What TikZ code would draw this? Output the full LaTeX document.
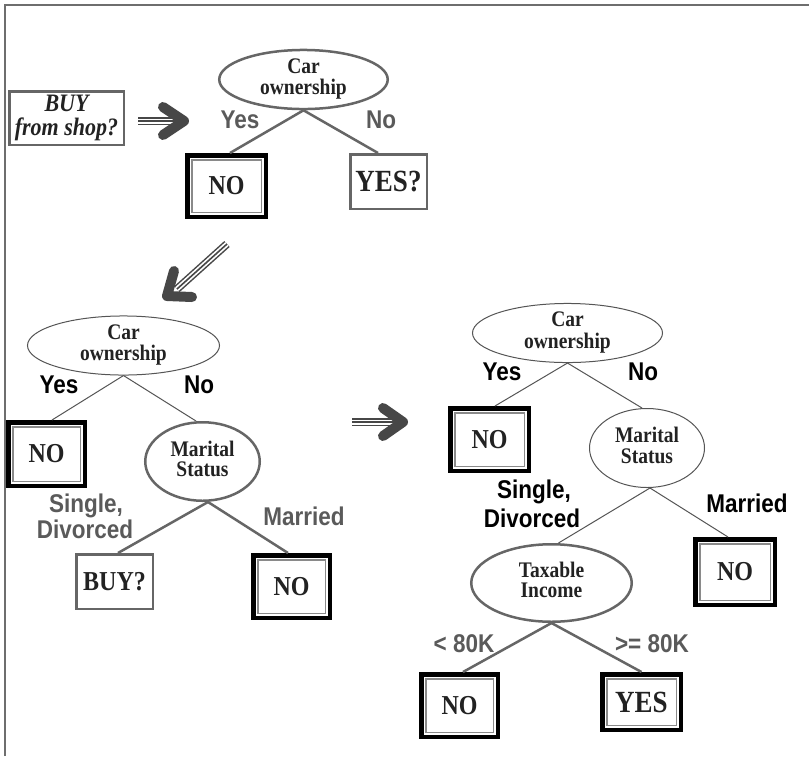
\documentclass[tikz,border=0pt]{standalone}
\usepackage{fontspec}
\usepackage{graphicx}
\setmainfont{Liberation Serif}
\newfontfamily\lsans{Liberation Sans}
\usetikzlibrary{shapes.geometric}
\definecolor{edgegray}{HTML}{666666}
\definecolor{thingray}{HTML}{555555}
\definecolor{lblgray}{HTML}{5A5A5A}
\definecolor{txtdark}{HTML}{222222}
\definecolor{innergray}{HTML}{8A8A8A}
\definecolor{arrowdark}{HTML}{474747}
\definecolor{framegray}{HTML}{6E6E6E}
\newcommand\ellfont{\bfseries\fontsize{19.5}{17}\selectfont}
\newcommand\boxfont{\bfseries\fontsize{24}{24}\selectfont}
\newcommand\bigboxfont{\bfseries\fontsize{27}{27}\selectfont}
\newcommand\buyfont{\bfseries\itshape\fontsize{22}{18.5}\selectfont}
\newcommand\lblfont{\lsans\bfseries\fontsize{22.5}{22.5}\selectfont}
\newcommand\vs[1]{\scalebox{1}[1.14]{#1}}
\newcommand\vst[1]{\scalebox{1}[1.14]{\begin{tabular}{@{}c@{}}#1\end{tabular}}}
\tikzset{
  frameline/.style={draw=framegray, line width=2.5pt},
  thickedge/.style={draw=edgegray, line width=2.5pt},
  thinedge/.style={draw=thingray, line width=1pt},
  ovalthick/.style={ellipse, draw=edgegray, line width=2.5pt, inner sep=0pt, font=\ellfont, text=txtdark},
  ovalthin/.style={ellipse, draw=thingray, line width=1pt, inner sep=0pt, font=\ellfont, text=txtdark},
  sbox/.style={rectangle, draw=edgegray, line width=2.5pt, inner sep=0pt, font=\boxfont, text=txtdark},
  dbox/.style={rectangle, draw=black, line width=4.5pt, inner sep=0pt, font=\boxfont, text=txtdark,
    path picture={\draw[draw=innergray, line width=1.5pt]
      ([shift={(4.5pt,-4.5pt)}]path picture bounding box.north west) rectangle
      ([shift={(-4.5pt,4.5pt)}]path picture bounding box.south east);}},
  lblg/.style={font=\lblfont, text=lblgray, anchor=base, inner sep=0pt},
  lblk/.style={font=\lblfont, text=black, anchor=base, inner sep=0pt},
  tripleline/.style={draw=arrowdark, line width=1.6pt,
    preaction={draw=arrowdark, line width=8pt},
    preaction={draw=white, line width=5pt}},
  chevron/.style={draw=arrowdark, line width=10pt, line cap=round, line join=round}
}
\begin{document}
\begin{tikzpicture}[x=1pt, y=-1pt]
\useasboundingbox (0,0) rectangle (809,756);
\fill[white] (0,0) rectangle (809,756);
% frame
\draw[frameline] (5,756) -- (5,5) -- (809,5);

% ---------- top tree ----------
\node[sbox, font=\buyfont, minimum width=114.5pt, minimum height=53.5pt] (buy) at (66.5,118) {\vst{BUY\\from shop?}};
\node[ovalthick, minimum width=168.5pt, minimum height=56.5pt] (e1) at (303.5,79.5) {\vst{Car\\ownership}};
\node[dbox, minimum width=78.5pt, minimum height=61.5pt] (no1) at (226.5,186) {\vs{NO}};
\node[sbox, font=\bigboxfont, minimum width=76.5pt, minimum height=54.5pt] (yes1) at (388.5,181.5) {\vs{YES?}};
\draw[thickedge] (e1.south) -- ([xshift=3.5pt]no1.north);
\draw[thickedge] (e1.south) -- ([xshift=-10.5pt]yes1.north);
\node[lblg] (ly1) at (240,128) {\vs{Yes}};
\node[lblg] (ln1) at (381,128) {\vs{No}};

% arrow 1
\coordinate (a1s) at (138,121);
\coordinate (a1e) at (178,121);
\coordinate (a1t) at (184,121);
\draw[tripleline] (a1s) -- (a1e);
\draw[chevron] (163,107) -- (a1t) -- (163,135);

% arrow 2
\coordinate (a2s) at (227,244);
\coordinate (a2e) at (177,289);
\coordinate (a2t) at (167,296);
\draw[tripleline] (a2s) -- (a2e);
\draw[chevron] (174,271) -- (a2t) -- (192,297);

% arrow 3
\coordinate (a3s) at (352,422);
\coordinate (a3e) at (397,422);
\coordinate (a3t) at (403,422);
\draw[tripleline] (a3s) -- (a3e);
\draw[chevron] (383,408) -- (a3t) -- (383,436);

% ---------- middle-left tree ----------
\node[ovalthin, minimum width=192pt, minimum height=58pt] (e2) at (123.5,345.5) {\vst{Car\\ownership}};
\node[dbox, minimum width=76.5pt, minimum height=63.5pt] (no2) at (46.5,454) {\vs{NO}};
\node[ovalthick, minimum width=114.5pt, minimum height=78.5pt] (ms2) at (202.5,461.5) {\vst{Marital\\Status}};
\node[sbox, minimum width=76.5pt, minimum height=54.5pt] (buy2) at (114.5,581.5) {\vs{BUY?}};
\node[dbox, minimum width=76.5pt, minimum height=62.5pt] (no3) at (291.5,586.5) {\vs{NO}};
\draw[thinedge] (e2.south) -- ([xshift=5.5pt]no2.north);
\draw[thinedge] (e2.south) -- ([xshift=-6.5pt]ms2.north);
\draw[thickedge] ([xshift=5.5pt]ms2.south) -- ([xshift=3.5pt]buy2.north);
\draw[thickedge] ([xshift=5.5pt]ms2.south) -- ([xshift=-3.5pt]no3.north);
\node[lblk] (ly2) at (59,393) {\vs{Yes}};
\node[lblk] (ln2) at (199,393) {\vs{No}};
\node[lblg] (ls2) at (86,512) {\vs{Single,}};
\node[lblg] (ld2) at (85,538) {\vs{Divorced}};
\node[lblg] (lm2) at (304,525) {\vs{Married}};

% ---------- right tree ----------
\node[ovalthin, minimum width=190pt, minimum height=59pt] (e3) at (567.5,333) {\vst{Car\\ownership}};
\node[dbox, minimum width=78.5pt, minimum height=62.5pt] (no4) at (489.5,439.5) {\vs{NO}};
\node[ovalthin, minimum width=115pt, minimum height=79pt] (ms3) at (647,448) {\vst{Marital\\Status}};
\node[dbox, minimum width=79.5pt, minimum height=65.5pt] (no5) at (735,572) {\vs{NO}};
\node[ovalthick, minimum width=160.5pt, minimum height=77.5pt] (ti) at (551.5,583) {\vst{Taxable\\Income}};
\node[dbox, minimum width=76.5pt, minimum height=62.5pt] (no6) at (459.5,705.5) {\vs{NO}};
\node[dbox, font=\bigboxfont, minimum width=78.5pt, minimum height=55.5pt] (yes2) at (641.5,702) {\vs{YES}};
\draw[thinedge] (e3.south) -- ([xshift=5.5pt]no4.north);
\draw[thinedge] (e3.south) -- ([xshift=-5pt]ms3.north);
\draw[thinedge] ([xshift=3pt]ms3.south) -- ([xshift=7pt]ti.north);
\draw[thinedge] ([xshift=3pt]ms3.south) -- ([xshift=-7pt]no5.north);
\draw[thickedge] (ti.south) -- ([xshift=3.5pt]no6.north);
\draw[thickedge] (ti.south) -- (yes2.north);
\node[lblk] (ly3) at (502,380) {\vs{Yes}};
\node[lblk] (ln3) at (643,380) {\vs{No}};
\node[lblk] (ls3) at (534,498) {\vs{Single,}};
\node[lblk] (ld3) at (532,527) {\vs{Divorced}};
\node[lblk] (lm3) at (747,512) {\vs{Married}};
\node[lblg] (lt1) at (464,652) {\vs{< 80K}};
\node[lblg] (lt2) at (652,652) {\vs{>= 80K}};
\end{tikzpicture}
\end{document}
